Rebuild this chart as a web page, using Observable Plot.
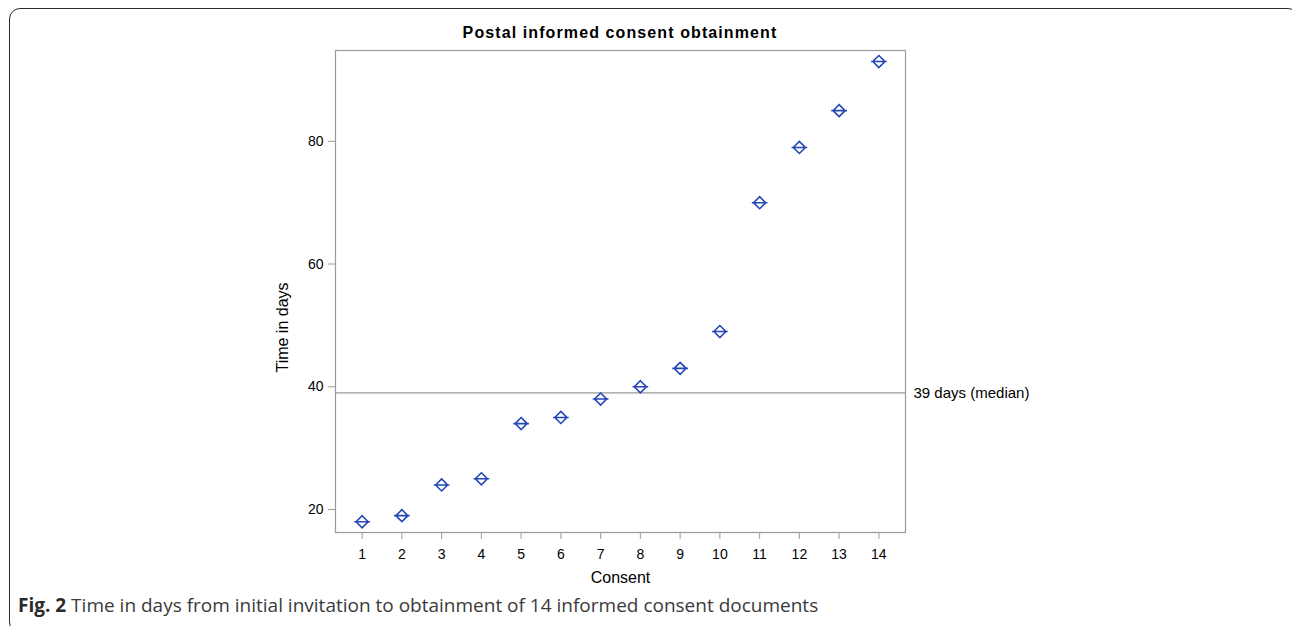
<!DOCTYPE html>
<html>
<head>
<meta charset="utf-8">
<script src="https://cdn.jsdelivr.net/npm/d3@7"></script>
<script src="https://cdn.jsdelivr.net/npm/@observablehq/plot@0.6"></script>
<style>
  html, body { margin: 0; padding: 0; background: #fff; }
  body { width: 1292px; height: 626px; position: relative; overflow: hidden; }
  #box { position: absolute; left: 9px; top: 8px; width: 1290px; height: 625px;
         border: 1.6px solid #2b2b2b; border-radius: 11px; box-sizing: border-box; }
  #title { position: absolute; left: 0; width: 1240px; top: 24px; text-align: center; line-height: 16px;
           font: bold 16px "Liberation Sans", Arial, sans-serif; letter-spacing: 1.1px; color: #000; }
  #chart { position: absolute; left: 0; top: 0; }
  #caption { position: absolute; left: 18px; top: 595px; line-height: 20px;
             font-family: "Open Sans", sans-serif; font-size: 19px; color: #3a3a3a; white-space: nowrap; }
  #caption b { color: #2b2b2b; }
</style>
</head>
<body>
<div id="box"></div>
<div id="chart"></div>
<div id="title">Postal informed consent obtainment</div>
<div id="caption"><b>Fig. 2</b> Time in days from initial invitation to obtainment of 14 informed consent documents</div>
<script>
const consent = [1, 2, 3, 4, 5, 6, 7, 8, 9, 10, 11, 12, 13, 14];
const days = [18, 19, 24, 25, 34, 35, 38, 40, 43, 49, 70, 79, 85, 93];
const median = [39];
const medianLabel = ["39 days (median)"];
const xTicks = [1, 2, 3, 4, 5, 6, 7, 8, 9, 10, 11, 12, 13, 14];
const yTicks = [20, 40, 60, 80];

const data = consent.map((c, i) => ({consent: c, days: days[i]}));

// Diamond with a horizontal bar through it (SAS-style marker)
const diamondBar = {
  draw(ctx, size) {
    const r = Math.sqrt(size) / 2;
    ctx.moveTo(0, -r); ctx.lineTo(r, 0); ctx.lineTo(0, r); ctx.lineTo(-r, 0); ctx.closePath();
    ctx.moveTo(-r * 1.3, 0); ctx.lineTo(r * 1.3, 0);
  }
};

const blue = "#2447b8";
const gray = "#9a9a9a";

const plot = Plot.plot({
  width: 1292,
  height: 590,
  marginLeft: 335,
  marginRight: 387,
  marginTop: 50,
  marginBottom: 58,
  style: {fontFamily: "'Liberation Sans', Arial, sans-serif", fontSize: "14px", color: "#000", background: "transparent"},
  x: {domain: [0.33, 14.67], ticks: xTicks, tickFormat: d => String(d), label: null},
  y: {domain: [16.25, 94.8], ticks: yTicks, tickFormat: d => String(d), label: null},
  marks: [
    Plot.frame({stroke: gray, strokeWidth: 1.2}),
    Plot.axisX({ticks: xTicks, tickSize: 7, tickPadding: 10, stroke: gray, fill: "#000", fontSize: 14, label: null}),
    Plot.axisY({ticks: yTicks, tickSize: 7, tickPadding: 5, stroke: gray, fill: "#000", fontSize: 14, label: null}),
    Plot.text(["Consent"], {frameAnchor: "bottom", textAnchor: "middle", dy: 50, fontSize: 16, fill: "#000"}),
    Plot.text(["Time in days"], {frameAnchor: "left", textAnchor: "middle", dx: -53, dy: 36, rotate: -90, fontSize: 16, fill: "#000"}),
    Plot.ruleY(median, {stroke: gray, strokeWidth: 1.3}),
    Plot.text(medianLabel, {y: median, frameAnchor: "right", textAnchor: "start", dx: 8, fontSize: 15, fill: "#000"}),
    Plot.dot(data, {x: "consent", y: "days", symbol: diamondBar, r: 6.8, stroke: blue, strokeWidth: 1.6, fill: "none"})
  ]
});
document.getElementById("chart").appendChild(plot);
</script>
</body>
</html>
